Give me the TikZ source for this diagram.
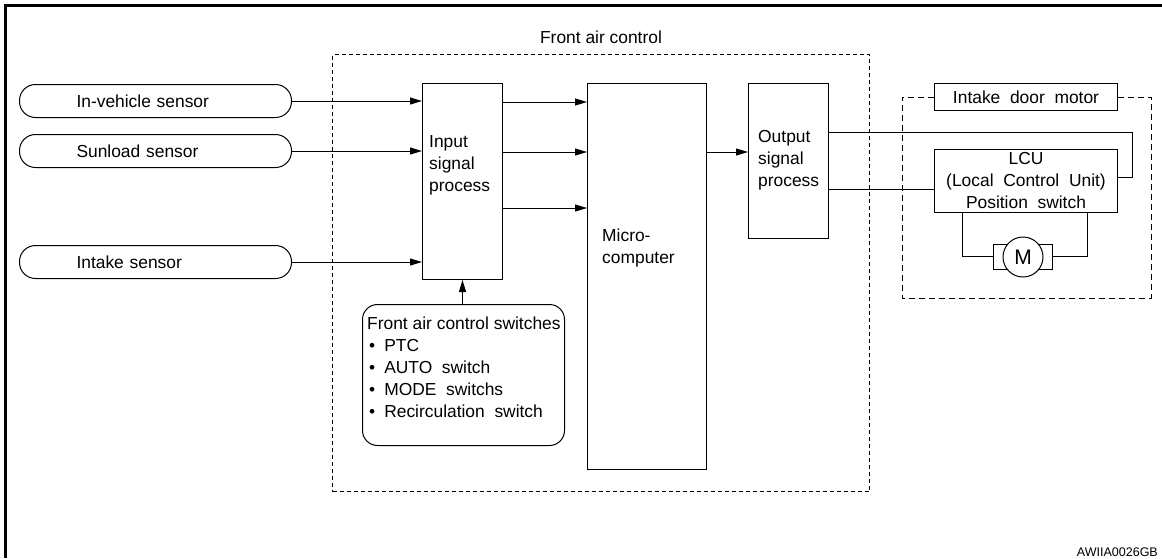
\documentclass[tikz,border=0pt]{standalone}
\usepackage{fontspec}
\setmainfont{Liberation Sans}
\newfontfamily\widesp{Liberation Sans}[WordSpace=2]
\usetikzlibrary{arrows.meta,calc}
\newcommand{\itm}{\hspace*{2pt}\textbullet\hspace{9pt}}

\begin{document}
\begin{tikzpicture}[
  x=1pt,y=-1pt,
  font=\fontsize{17.4}{22}\selectfont,
  box/.style={draw,line width=1pt,inner sep=0pt,anchor=north west},
  sensor/.style={box,rounded corners=16pt,minimum width=272pt,minimum height=33pt,
                 text width=158pt,inner xsep=57pt,align=left,font=\fontsize{17.4}{22}\selectfont\widesp},
  lbl/.style={inner sep=0pt,anchor=north west,align=left},
  ar/.style={-{Triangle[length=12pt,width=7pt]},line width=1pt},
  wire/.style={line width=1pt},
  dsh/.style={line width=1pt,dash pattern=on 4pt off 3pt},
  dshm/.style={line width=1pt,dash pattern=on 6pt off 4pt}
]
\useasboundingbox (0,0) rectangle (1162,558);
\draw[line width=3pt] (5.5,558) -- (5.5,5.5) -- (1162,5.5);

% sensors
\node[sensor] (ivs) at (19,84) {In-vehicle sensor};
\node[sensor] (sls) at (19,134) {Sunload sensor};
\node[sensor] (its) at (19,245) {Intake sensor};

% front air control
\node[box,dsh,minimum width=537pt,minimum height=437pt,
      label={[inner sep=0pt,label distance=10pt]above:Front air control}] (fac) at (332,54) {};
\node[box,minimum width=80pt,minimum height=196pt] (isp) at (422,83) {};
\node[lbl] (isp-t) at ($(isp.north west)+(7,52)$) {Input\\signal\\process};
\node[box,minimum width=119pt,minimum height=386pt] (mcu) at (587,83) {};
\node[lbl] (mcu-t) at ($(mcu.north west)+(15,146)$) {Micro-\\computer};
\node[box,minimum width=80pt,minimum height=155pt] (osp) at (748,83) {};
\node[lbl] (osp-t) at ($(osp.north west)+(10,47)$) {Output\\signal\\process};
\node[box,rounded corners=15pt,minimum width=202pt,minimum height=141pt] (fsw) at (362,304) {};
\node[lbl] (fsw-t) at ($(fsw.north west)+(5,13)$) {Front air control switches\\
  {\widesp\itm PTC}\\{\widesp\itm AUTO switch}\\{\widesp\itm MODE switchs}\\{\widesp\itm Recirculation switch}};

% intake door motor
\node[box,minimum width=183pt,minimum height=27pt,font=\fontsize{17.4}{22}\selectfont\widesp] (idm) at (934,83) {Intake door motor};
\node[box,minimum width=183pt,minimum height=63pt,align=center,
      font=\fontsize{17.4}{22}\selectfont\widesp] (lcu) at (934,149) {LCU\\(Local Control Unit)\\Position switch};
\node[draw,line width=1pt,minimum width=59pt,minimum height=25pt,inner sep=0pt] (mbox) at (1022.5,256.5) {};
\node[circle,draw,fill=white,line width=1pt,minimum size=40pt,inner sep=0pt,
      font=\fontsize{21}{24}\selectfont] (mot) at (1023,257) {M};
\draw[dshm] (idm.west) -- ++(-32,0) |- ($(idm.east)+(33,201)$) |- (idm.east);

% signals
\foreach \s in {ivs,sls,its}
  \draw[ar] (\s.east) -- (\s.east -| isp.west);
\foreach \d in {19,69,125}
  \draw[ar] ($(isp.north east)+(0,\d)$) -- ($(mcu.north west)+(0,\d)$);
\draw[ar] ($(mcu.north east)+(0,69)$) -- ($(osp.north west)+(0,69)$);
\draw[ar] (fsw.north -| isp.south) -- (isp.south);
\coordinate (o1) at ($(osp.north east)+(0,49)$);
\coordinate (o2) at ($(osp.north east)+(0,106)$);
\coordinate (l1) at ($(lcu.north east)+(0,28)$);
\draw[wire] (o1) -- ++(303,0) |- (l1);
\draw[wire] (o2) -- (o2 -| lcu.west);
\draw[wire] (mbox.west) -| ($(lcu.south west)+(28,0)$);
\draw[wire] (mbox.east) -| ($(lcu.south east)+(-31,0)$);

\node[anchor=base east,inner sep=0pt,font=\fontsize{12.5}{15}\selectfont] (code) at (1158,556) {AWIIA0026GB};
\end{tikzpicture}
\end{document}
